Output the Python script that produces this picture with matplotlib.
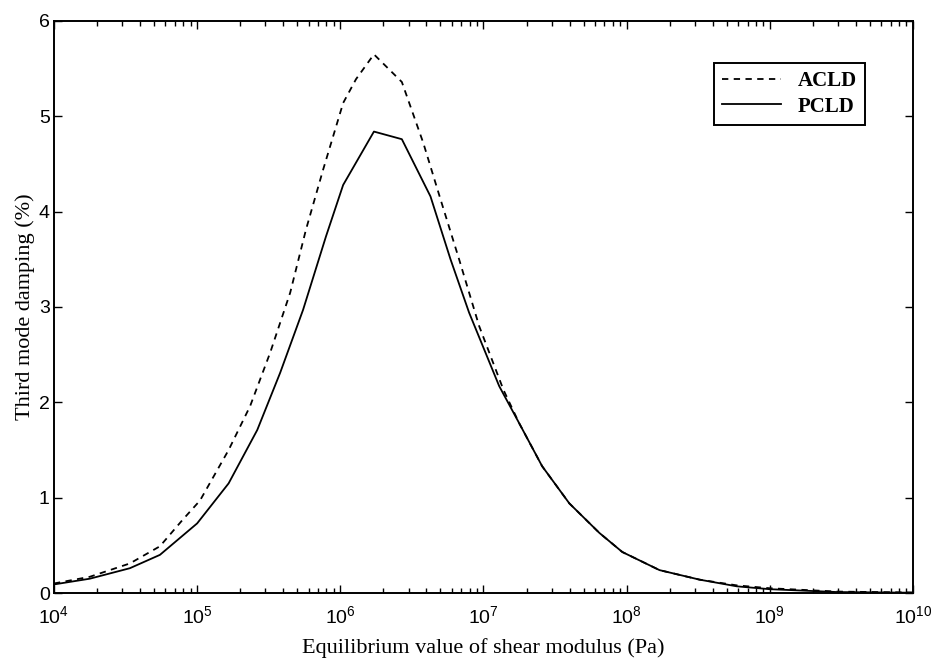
import matplotlib.pyplot as plt
import numpy as np

# log10 of shear modulus (Pa) and damping (%)
log_g_acld = [4.0, 4.25, 4.53, 4.74, 4.90, 5.02, 5.22, 5.37, 5.51, 5.65, 5.76, 5.88,
              6.02, 6.11, 6.235, 6.43, 6.58, 6.70, 6.83, 6.97, 7.14, 7.25, 7.41,
              7.60, 7.81, 7.97, 8.23, 8.51, 8.77, 9.0, 9.47, 10.0]
damp_acld = [0.10, 0.17, 0.31, 0.49, 0.77, 0.97, 1.50, 1.96, 2.52, 3.15, 3.81, 4.44,
             5.14, 5.39, 5.65, 5.36, 4.72, 4.13, 3.50, 2.80, 2.13, 1.78, 1.33,
             0.94, 0.63, 0.43, 0.24, 0.14, 0.08, 0.05, 0.015, 0.005]

log_g_pcld = [4.0, 4.25, 4.53, 4.74, 5.0, 5.22, 5.42, 5.58, 5.74, 5.90, 6.02, 6.235,
              6.43, 6.63, 6.77, 6.90, 7.11, 7.25, 7.41, 7.60, 7.81, 7.97, 8.23,
              8.51, 8.77, 9.0, 9.47, 10.0]
damp_pcld = [0.09, 0.15, 0.26, 0.40, 0.73, 1.15, 1.71, 2.31, 2.97, 3.74, 4.28, 4.84,
             4.76, 4.16, 3.50, 2.94, 2.17, 1.78, 1.33, 0.94, 0.63, 0.43, 0.24,
             0.14, 0.07, 0.04, 0.01, 0.003]

x_ticks = [1e4, 1e5, 1e6, 1e7, 1e8, 1e9, 1e10]
x_ticklabels = ['$10^{4}$', '$10^{5}$', '$10^{6}$', '$10^{7}$', '$10^{8}$', '$10^{9}$', '$10^{10}$']

plt.rcParams['mathtext.fontset'] = 'custom'
plt.rcParams['mathtext.rm'] = 'Liberation Sans'
plt.rcParams['mathtext.it'] = 'Liberation Sans'

fig = plt.figure(figsize=(9.37, 6.66), dpi=100)
ax = fig.add_axes([0.0576, 0.1096, 0.9167, 0.8589])

ax.plot(10 ** np.array(log_g_acld), damp_acld, color='black', lw=1.3,
        linestyle=(0, (3.5, 3)), label='ACLD')
ax.plot(10 ** np.array(log_g_pcld), damp_pcld, color='black', lw=1.3,
        linestyle='-', label='PCLD')

ax.set_xscale('log')
ax.set_xlim(1e4, 1e10)
ax.set_ylim(0, 6)
ax.set_xticks(x_ticks)
ax.set_xticklabels(x_ticklabels)
ax.set_yticks(range(7))

ax.tick_params(which='both', direction='in', top=True, right=True,
               labelsize=14, colors='black')
ax.tick_params(which='major', length=6, width=1)
ax.tick_params(which='minor', length=3.5, width=1)
ax.tick_params(axis='x', pad=9)
ax.tick_params(axis='y', pad=3)
for lab in ax.get_yticklabels():
    lab.set_family('Liberation Sans')
for sp in ax.spines.values():
    sp.set_linewidth(1.4)

ax.set_xlabel('Equilibrium value of shear modulus (Pa)', family='Liberation Serif',
              fontsize=16, labelpad=8)
ax.set_ylabel('Third mode damping (%)', family='Liberation Serif',
              fontsize=16, labelpad=3)

leg = ax.legend(loc='upper right', bbox_to_anchor=(0.944, 0.9266), borderaxespad=0,
                prop={'family': 'Liberation Serif', 'size': 15, 'weight': 'bold'},
                fancybox=False, edgecolor='black', framealpha=1,
                handlelength=2.8, borderpad=0.4, labelspacing=0.25)
leg.get_frame().set_linewidth(1.4)

fig.savefig('out.png', dpi=100)
